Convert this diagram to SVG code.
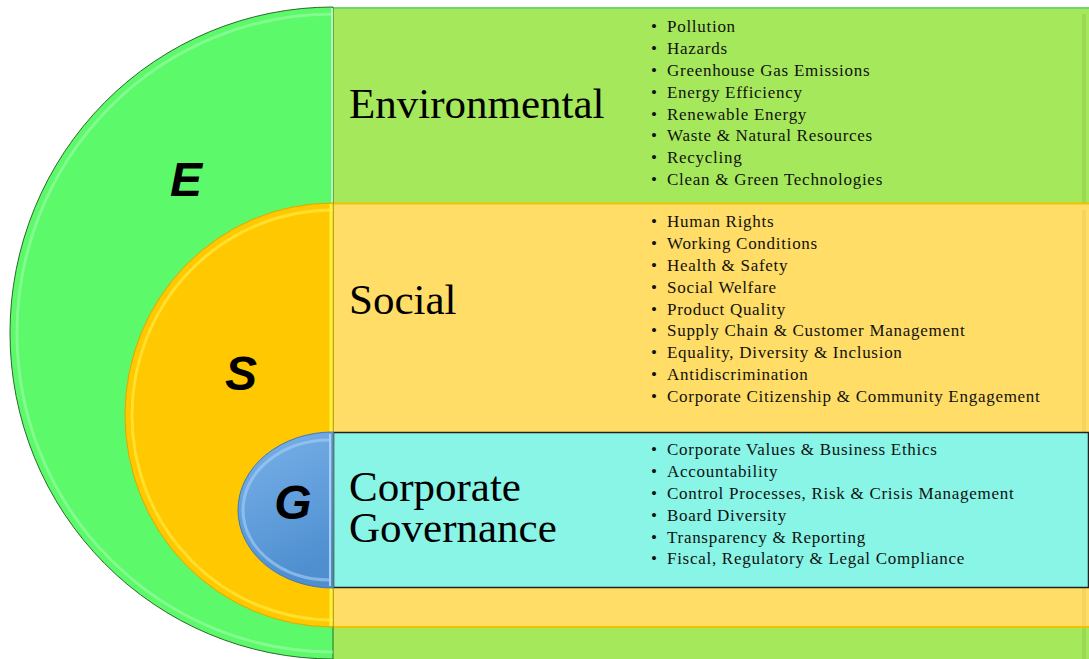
<svg xmlns="http://www.w3.org/2000/svg" width="1089" height="659" viewBox="0 0 1089 659">
<style>
.big{font-family:"Liberation Serif","Times New Roman",serif;font-size:43px;fill:#000}
.li{font-family:"Liberation Serif","Times New Roman",serif;font-size:17px;fill:#111;letter-spacing:0.72px}
.let{font-family:"Liberation Sans",Arial,sans-serif;font-size:48px;font-weight:bold;font-style:italic;fill:#000;text-anchor:middle}
.hl{fill:none;stroke-width:3;opacity:0.6}
</style>
<defs>
<linearGradient id="gG" x1="0" y1="0" x2="0.3" y2="1">
<stop offset="0" stop-color="#7AB2EA"/>
<stop offset="1" stop-color="#4F8FD0"/>
</linearGradient>
</defs>
<rect width="1089" height="659" fill="#fff"/>
<g id="panel-E">
<rect x="333" y="7" width="756" height="652" fill="#A6E85B"/>
<line x1="333" y1="8" x2="1089" y2="8" stroke="#6CD86A" stroke-width="2"/>
<line x1="1084" y1="14" x2="1084" y2="659" stroke="#9BD955" stroke-width="4"/>
</g>
<g id="panel-S">
<rect x="333" y="203" width="756" height="424" fill="#FFDD66"/>
<line x1="333" y1="203.5" x2="1089" y2="203.5" stroke="#F2C200" stroke-width="2"/>
<line x1="333" y1="627" x2="1089" y2="627" stroke="#F2C200" stroke-width="2"/>
<line x1="1084" y1="210" x2="1084" y2="626" stroke="#F7D35E" stroke-width="4"/>
</g>
<g id="panel-G">
<rect x="333.5" y="432.5" width="755" height="155" fill="#88F5E6" stroke="#222" stroke-width="1.5"/>
</g>
<g id="disc-E">
<path d="M333 7 A323 326 0 0 0 333 659 Z" fill="#5CF96A" stroke="#2a6a2a" stroke-width="1"/>
<path d="M333 14 A316 319 0 0 0 333 652" class="hl" stroke="#9DFCA6"/>
<line x1="332" y1="8" x2="332" y2="203" stroke="#B8F5C0" stroke-width="2"/>
<text x="186" y="196" class="let">E</text>
</g>
<g id="disc-S">
<path d="M333 203 A208 212 0 0 0 333 627 Z" fill="#FFC800" stroke="#E0A800" stroke-width="1"/>
<path d="M333 210 A201 205 0 0 0 333 620" class="hl" stroke="#FFF04A"/>
<line x1="331" y1="204" x2="331" y2="432" stroke="#FFF23A" stroke-width="3"/>
<line x1="331" y1="588" x2="331" y2="626" stroke="#FFF23A" stroke-width="3"/>
<text x="241" y="390" class="let">S</text>
</g>
<g id="disc-G">
<path d="M333 432 A95 78 0 0 0 333 588 Z" fill="url(#gG)" stroke="#3E78B5" stroke-width="1"/>
<path d="M330 440 A87 70 0 0 0 330 580" class="hl" stroke="#A8D0F5"/>
<line x1="330" y1="434" x2="330" y2="586" stroke="#A8D0F5" stroke-width="2"/>
<text x="293" y="519" class="let">G</text>
</g>
<g id="labels">
<text x="349" y="118" class="big">Environmental</text>
<text x="349" y="314" class="big">Social</text>
<text class="big"><tspan x="349" y="501">Corporate</tspan><tspan x="349" y="542">Governance</tspan></text>
</g>
<g id="list-E" class="li">
<text y="32"><tspan x="651">•</tspan><tspan x="667">Pollution</tspan></text>
<text y="54"><tspan x="651">•</tspan><tspan x="667">Hazards</tspan></text>
<text y="76"><tspan x="651">•</tspan><tspan x="667">Greenhouse Gas Emissions</tspan></text>
<text y="98"><tspan x="651">•</tspan><tspan x="667">Energy Efficiency</tspan></text>
<text y="120"><tspan x="651">•</tspan><tspan x="667">Renewable Energy</tspan></text>
<text y="141"><tspan x="651">•</tspan><tspan x="667">Waste &amp; Natural Resources</tspan></text>
<text y="163"><tspan x="651">•</tspan><tspan x="667">Recycling</tspan></text>
<text y="185"><tspan x="651">•</tspan><tspan x="667">Clean &amp; Green Technologies</tspan></text>
</g>
<g id="list-S" class="li">
<text y="227"><tspan x="651">•</tspan><tspan x="667">Human Rights</tspan></text>
<text y="249"><tspan x="651">•</tspan><tspan x="667">Working Conditions</tspan></text>
<text y="271"><tspan x="651">•</tspan><tspan x="667">Health &amp; Safety</tspan></text>
<text y="293"><tspan x="651">•</tspan><tspan x="667">Social Welfare</tspan></text>
<text y="315"><tspan x="651">•</tspan><tspan x="667">Product Quality</tspan></text>
<text y="336"><tspan x="651">•</tspan><tspan x="667">Supply Chain &amp; Customer Management</tspan></text>
<text y="358"><tspan x="651">•</tspan><tspan x="667">Equality, Diversity &amp; Inclusion</tspan></text>
<text y="380"><tspan x="651">•</tspan><tspan x="667">Antidiscrimination</tspan></text>
<text y="402"><tspan x="651">•</tspan><tspan x="667">Corporate Citizenship &amp; Community Engagement</tspan></text>
</g>
<g id="list-G" class="li">
<text y="455"><tspan x="651">•</tspan><tspan x="667">Corporate Values &amp; Business Ethics</tspan></text>
<text y="477"><tspan x="651">•</tspan><tspan x="667">Accountability</tspan></text>
<text y="499"><tspan x="651">•</tspan><tspan x="667">Control Processes, Risk &amp; Crisis Management</tspan></text>
<text y="521"><tspan x="651">•</tspan><tspan x="667">Board Diversity</tspan></text>
<text y="543"><tspan x="651">•</tspan><tspan x="667">Transparency &amp; Reporting</tspan></text>
<text y="564"><tspan x="651">•</tspan><tspan x="667">Fiscal, Regulatory &amp; Legal Compliance</tspan></text>
</g>
</svg>
